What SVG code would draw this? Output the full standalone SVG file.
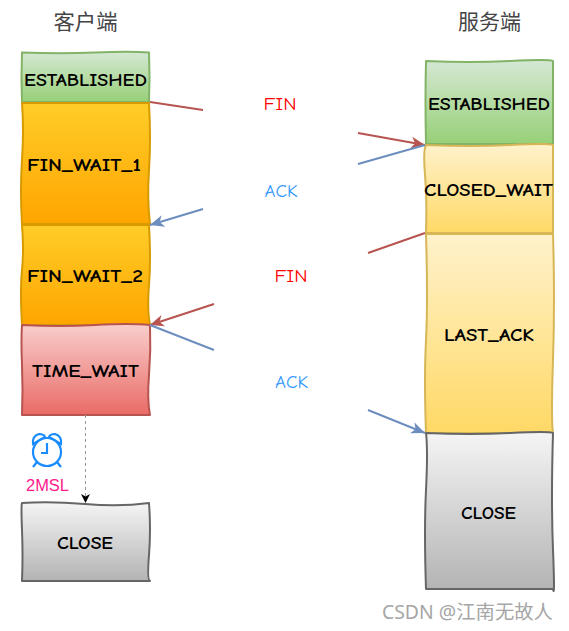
<svg xmlns="http://www.w3.org/2000/svg" width="569" height="631" viewBox="0 0 569 631">
<style>
.n{stroke-width:2;stroke-linejoin:round}
.s{font-family:"Comic Sans MS","Comic Neue",cursive,"DejaVu Sans",sans-serif;font-size:19px;fill:#000;text-anchor:middle;font-weight:bold}
.h{font-family:"Noto Sans CJK SC","Noto Sans",sans-serif;font-size:21px;fill:#444;text-anchor:middle}
.l{font-family:"Comic Sans MS","Comic Neue",cursive,"DejaVu Sans",sans-serif;font-size:18px;text-anchor:middle}
.r{stroke:#b85450;stroke-width:2;fill:none}
.b{stroke:#6c8ebf;stroke-width:2;fill:none}
</style>
<defs>
<linearGradient id="g" x1="0" y1="0" x2="0" y2="1"><stop offset="0" stop-color="#d5e8d4"/><stop offset="1" stop-color="#97d077"/></linearGradient>
<linearGradient id="o" x1="0" y1="0" x2="0" y2="1"><stop offset="0" stop-color="#ffcd28"/><stop offset="1" stop-color="#ffa500"/></linearGradient>
<linearGradient id="y" x1="0" y1="0" x2="0" y2="1"><stop offset="0" stop-color="#fff2cc"/><stop offset="1" stop-color="#ffd966"/></linearGradient>
<linearGradient id="p" x1="0" y1="0" x2="0" y2="1"><stop offset="0" stop-color="#f8cecc"/><stop offset="1" stop-color="#ea6b66"/></linearGradient>
<linearGradient id="c" x1="0" y1="0" x2="0" y2="1"><stop offset="0" stop-color="#f5f5f5"/><stop offset="1" stop-color="#b3b3b3"/></linearGradient>
<marker id="ar" markerUnits="userSpaceOnUse" markerWidth="16" markerHeight="14" refX="14" refY="7" orient="auto"><path d="M0,1 L14,7 L0,13 L4,7 Z" fill="#b85450"/></marker>
<marker id="ab" markerUnits="userSpaceOnUse" markerWidth="16" markerHeight="14" refX="14" refY="7" orient="auto"><path d="M0,1 L14,7 L0,13 L4,7 Z" fill="#6c8ebf"/></marker>
<marker id="ak" markerUnits="userSpaceOnUse" markerWidth="10" markerHeight="10" refX="9" refY="5" orient="auto"><path d="M0,0.500 L9,5 L0,9.500 L2.500,5 Z" fill="#000"/></marker>
</defs>
<text class="h" x="85.500" y="29" textLength="64" lengthAdjust="spacingAndGlyphs">客户端</text>
<text class="h" x="489.500" y="29" textLength="63" lengthAdjust="spacingAndGlyphs">服务端</text>
<g id="client-established"><path class="n" fill="url(#g)" stroke="#82b366" d="M22,52.500 Q60,54 95,52.500 T149,52.500 Q150,78 149,102 L22,102 Q21,78 22,52.500Z"/><text class="s" x="85.500" y="86" textLength="123" lengthAdjust="spacingAndGlyphs">ESTABLISHED</text></g>
<g id="client-fin-wait-1"><path class="n" fill="url(#o)" stroke="#d79b00" d="M22,103 L149,103 Q151,140 149,170 T150,224 L22,224 Q20,190 22,160 T22,103Z"/><text class="s" x="84" y="171" textLength="114" lengthAdjust="spacingAndGlyphs">FIN_WAIT_1</text></g>
<g id="client-fin-wait-2"><path class="n" fill="url(#o)" stroke="#d79b00" d="M22,225 L149,225 Q151,260 149,285 T150,325 L22,325 Q20,290 22,270 T22,225Z"/><text class="s" x="85" y="282" textLength="116" lengthAdjust="spacingAndGlyphs">FIN_WAIT_2</text></g>
<g id="client-time-wait"><path class="n" fill="url(#p)" stroke="#b85450" d="M22,325 Q60,327 95,325 T150,325 Q151,350 149,375 T150,415 L22,415 Q23,390 22,365 T22,325Z"/><text class="s" x="85.500" y="377" textLength="107" lengthAdjust="spacingAndGlyphs">TIME_WAIT</text></g>
<g id="client-close"><path class="n" fill="url(#c)" stroke="#666666" d="M22,503 Q50,501 85,504 T149,503 Q151,530 149,555 T150,581 L22,581 Q23,555 22,530 T22,503Z"/><text class="s" x="85" y="549" textLength="56" lengthAdjust="spacingAndGlyphs">CLOSE</text></g>
<g id="server-established"><path class="n" fill="url(#g)" stroke="#82b366" d="M426,61 Q470,63 510,61 T553,61 L553,144 L426,144 Q425,100 426,61Z"/><text class="s" x="489" y="110" textLength="122" lengthAdjust="spacingAndGlyphs">ESTABLISHED</text></g>
<g id="server-closed-wait"><path class="n" fill="url(#y)" stroke="#d6b656" d="M426,145 Q470,147 510,145 T553,145 L553,233 L426,233 Q427,200 425,175 T426,145Z"/><text class="s" x="488.500" y="196" textLength="129" lengthAdjust="spacingAndGlyphs">CLOSED_WAIT</text></g>
<g id="server-last-ack"><path class="n" fill="url(#y)" stroke="#d6b656" d="M426,234 L553,234 Q555,300 553,360 T553,433 L426,433 Q424,380 426,340 T426,234Z"/><text class="s" x="489" y="341" textLength="90" lengthAdjust="spacingAndGlyphs">LAST_ACK</text></g>
<g id="server-close"><path class="n" fill="url(#c)" stroke="#666666" d="M426,433 Q470,435 510,433 T553,433 Q551,500 553,550 T553,589 L426,589 Q424,530 426,490 T426,433Z"/><text class="s" x="488.500" y="519" textLength="55" lengthAdjust="spacingAndGlyphs">CLOSE</text></g>
<g id="connectors">
<path class="r" d="M150,102 L203,110"/>
<path class="r" d="M358,133 L425,145" marker-end="url(#ar)"/>
<path class="b" d="M203,209 L150,225" marker-end="url(#ab)"/>
<path class="b" d="M358,164 L425,145"/>
<path class="r" d="M425,233 L368,253"/>
<path class="r" d="M214,304 L150,325" marker-end="url(#ar)"/>
<path class="b" d="M150,325 L214,350"/>
<path class="b" d="M368,410 L425,433" marker-end="url(#ab)"/>
<path d="M85.500,415 L85.500,503" stroke="#999" stroke-width="1" stroke-dasharray="3 3" fill="none" marker-end="url(#ak)"/>
</g>
<text class="l" x="280" y="110" fill="#ff0000" textLength="33" lengthAdjust="spacingAndGlyphs">FIN</text>
<text class="l" x="281" y="197" fill="#3399ff" textLength="33" lengthAdjust="spacingAndGlyphs">ACK</text>
<text class="l" x="291" y="282" fill="#ff0000" textLength="33" lengthAdjust="spacingAndGlyphs">FIN</text>
<text class="l" x="291.500" y="388" fill="#3399ff" textLength="33" lengthAdjust="spacingAndGlyphs">ACK</text>
<g id="clock" fill="none" stroke="#1a8cff" stroke-width="2.200">
<circle cx="47" cy="452" r="14"/>
<path d="M47,443 L47,453 L41,453"/>
<path d="M33,444 Q32,436 39,434 Q44,434 45,437 Z M61,444 Q62,436 55,434 Q50,434 49,437 Z"/>
<path d="M37,462 L33,467 M57,462 L61,467"/>
</g>
<text x="47.500" y="491" font-family="Liberation Sans,Arial,sans-serif" font-size="16px" fill="#ff1a8c" text-anchor="middle" textLength="43" lengthAdjust="spacingAndGlyphs">2MSL</text>
<text x="467.500" y="619" font-family="Noto Sans,'Noto Sans CJK SC',sans-serif" font-size="19px" fill="#a6a6a6" text-anchor="middle" textLength="171" lengthAdjust="spacingAndGlyphs">CSDN @江南无故人</text>
</svg>
